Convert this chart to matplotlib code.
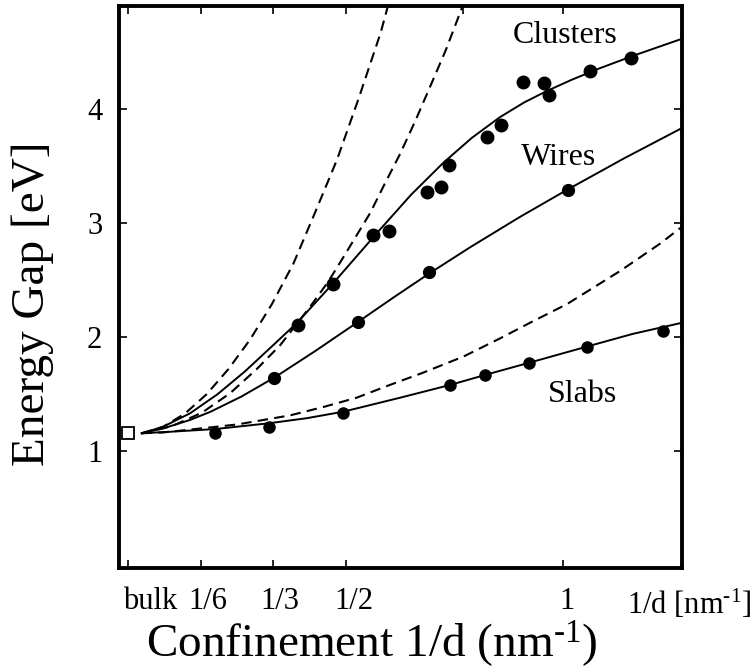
import matplotlib
matplotlib.use("Agg")
import matplotlib.pyplot as plt
import matplotlib.transforms as mtransforms

plt.rcParams['font.family'] = ['Liberation Serif', 'DejaVu Serif']
plt.rcParams['mathtext.fontset'] = 'custom'
plt.rcParams['mathtext.rm'] = 'Liberation Serif'
plt.rcParams['mathtext.it'] = 'Liberation Serif:italic'

# ---- data (x = 1/d in nm^-1, y = gap in eV) ----
bulk_x = [0.0]
bulk_y = [1.158]

clusters_x = [0.391, 0.471, 0.563, 0.600, 0.686, 0.720, 0.738, 0.825, 0.856,
              0.908, 0.956, 0.968, 1.061, 1.156]
clusters_y = [2.108, 2.465, 2.897, 2.932, 3.277, 3.316, 3.514, 3.754, 3.860,
              4.237, 4.228, 4.123, 4.339, 4.450]

wires_x = [0.335, 0.529, 0.692, 1.010]
wires_y = [1.646, 2.137, 2.570, 3.292]

slabs_x = [0.199, 0.324, 0.494, 0.740, 0.820, 0.922, 1.054, 1.230]
slabs_y = [1.158, 1.216, 1.339, 1.582, 1.670, 1.778, 1.918, 2.055]

# solid fit curves
fit_clusters_x = [0.031, 0.08, 0.142, 0.205, 0.268, 0.330, 0.387, 0.471, 0.571,
                  0.650, 0.724, 0.790, 0.854, 0.910, 0.962, 1.020, 1.084, 1.161, 1.274]
fit_clusters_y = [1.158, 1.215, 1.333, 1.500, 1.700, 1.920, 2.123, 2.474, 2.912,
                  3.250, 3.530, 3.750, 3.930, 4.060, 4.160, 4.260, 4.360, 4.470, 4.620]

fit_wires_x = [0.031, 0.08, 0.142, 0.188, 0.260, 0.337, 0.430, 0.529, 0.610,
               0.690, 0.786, 0.900, 1.008, 1.140, 1.273]
fit_wires_y = [1.158, 1.200, 1.275, 1.345, 1.480, 1.649, 1.880, 2.137, 2.350,
               2.555, 2.790, 3.055, 3.292, 3.570, 3.836]

fit_slabs_x = [0.031, 0.100, 0.200, 0.322, 0.410, 0.494, 0.625, 0.740, 0.830,
               0.922, 1.054, 1.160, 1.274]
fit_slabs_y = [1.158, 1.172, 1.195, 1.245, 1.290, 1.347, 1.470, 1.582, 1.680,
               1.777, 1.918, 2.030, 2.128]

# dashed curves
dash_a_x = [0.031, 0.08, 0.13, 0.18, 0.23, 0.28, 0.33, 0.38, 0.43, 0.48, 0.53, 0.58, 0.60]
dash_a_y = [1.158, 1.215, 1.330, 1.500, 1.720, 1.980, 2.290, 2.650, 3.100, 3.560, 4.100, 4.670, 4.950]

dash_b_x = [0.031, 0.10, 0.17, 0.234, 0.295, 0.349, 0.418, 0.460, 0.494, 0.556,
            0.590, 0.625, 0.660, 0.694, 0.730, 0.774]
dash_b_y = [1.158, 1.220, 1.340, 1.509, 1.720, 1.930, 2.268, 2.490, 2.700, 3.090,
            3.350, 3.610, 3.900, 4.200, 4.520, 4.960]

dash_c_x = [0.031, 0.08, 0.142, 0.250, 0.372, 0.450, 0.525, 0.600, 0.678, 0.770,
            0.855, 0.930, 1.008, 1.130, 1.222, 1.273]
dash_c_y = [1.158, 1.165, 1.190, 1.235, 1.315, 1.390, 1.470, 1.580, 1.690, 1.830,
            1.991, 2.140, 2.290, 2.580, 2.820, 2.970]

xtick_vals = [0.0, 1/6, 1/3, 1/2, 1.0]
xtick_labels = ['bulk', '1/6', '1/3', '1/2', '1']
top_tick_vals = [0.0, 1/6, 1/3, 1/2, 0.769, 1.0]
ytick_vals = [1, 2, 3, 4]
ytick_labels = ['1', '2', '3', '4']

# ---- figure ----
fig = plt.figure(figsize=(7.53, 6.70), dpi=100)
ax = fig.add_axes([119/753, 1 - 568/670, (682 - 119)/753, (568 - 6)/670])

lw_solid = 1.4
ax.plot(fit_clusters_x, fit_clusters_y, color='black', lw=lw_solid, zorder=2)
ax.plot(fit_wires_x, fit_wires_y, color='black', lw=lw_solid, zorder=2)
ax.plot(fit_slabs_x, fit_slabs_y, color='black', lw=lw_solid, zorder=2)
for xs, ys in [(dash_a_x, dash_a_y), (dash_b_x, dash_b_y), (dash_c_x, dash_c_y)]:
    ax.plot(xs, ys, color='black', lw=1.5, dashes=(5, 3), zorder=2)

ax.plot(clusters_x, clusters_y, 'o', color='black', ms=9, zorder=3)
ax.plot(wires_x, wires_y, 'o', color='black', ms=8.5, zorder=3)
ax.plot(slabs_x, slabs_y, 'o', color='black', ms=8, zorder=3)
ax.plot(bulk_x, bulk_y, 's', mfc='white', mec='black', mew=1.3, ms=8, zorder=3,
        clip_on=False)

ax.set_xlim(-0.0214, 1.2729)
ax.set_ylim(-0.024, 4.906)

ax.set_xticks(xtick_vals)
ax.set_xticklabels(xtick_labels, fontsize=22)
ax.set_yticks(ytick_vals)
ax.set_yticklabels(ytick_labels, fontsize=22)
ax.tick_params(axis='x', direction='in', length=6, width=1.2, top=False, pad=14)
ax.tick_params(axis='y', direction='in', length=6, width=1.2, right=True, pad=12)

# small horizontal nudges of the x tick labels as in the reference
shifts_px = [22, 7, 7, 8, 4]
for lab, s in zip(ax.get_xticklabels(), shifts_px):
    off = mtransforms.ScaledTranslation(s / 100, 0, fig.dpi_scale_trans)
    lab.set_transform(lab.get_transform() + off)

axt = ax.twiny()
axt.set_xlim(ax.get_xlim())
axt.set_xticks(top_tick_vals)
axt.tick_params(axis='x', direction='in', length=6, width=1.2, labeltop=False)
for sp in axt.spines.values():
    sp.set_visible(False)

for sp in ax.spines.values():
    sp.set_linewidth(2.8)

ax.annotate(r'1/d [nm$^{\text{-1}}$]', xy=(1.289, 0), xycoords=('data', 'axes fraction'),
            xytext=(0, -14), textcoords='offset points', ha='center', va='top',
            fontsize=22, annotation_clip=False)

ax.text(1.004, 4.643, 'Clusters', fontsize=23, ha='center', va='center')
ax.text(0.988, 3.577, 'Wires', fontsize=23, ha='center', va='center')
ax.text(1.045, 1.494, 'Slabs', fontsize=23, ha='center', va='center')

ax.set_xlabel(r'Confinement 1/d (nm$^{\text{-1}}$)', fontsize=34)
ax.set_ylabel('Energy Gap [eV]', fontsize=34)
ax.xaxis.set_label_coords(0.449, -0.089)
ax.xaxis.label.set_va('top')
ax.yaxis.set_label_coords(-0.153, 0.47)
ax.yaxis.label.set_va('center')

fig.savefig('out.png', dpi=100)
